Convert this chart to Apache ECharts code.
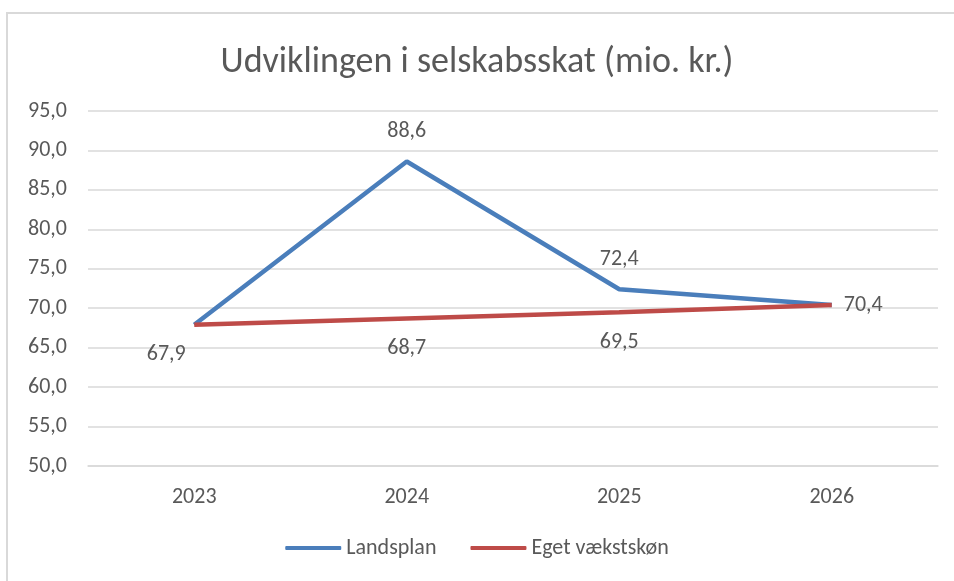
<!DOCTYPE html>
<html>
<head>
<meta charset="utf-8">
<script src="https://cdn.jsdelivr.net/npm/echarts@6/dist/echarts.min.js"></script>
<style>
  html, body { margin: 0; padding: 0; background: #fff; }
  #frame { position: absolute; left: 6px; top: 12px; width: 960px; height: 580px; border: 2px solid #d9d9d9; box-sizing: border-box; }
  #chart { position: absolute; left: 0; top: 0; width: 954px; height: 581px; }
</style>
</head>
<body>
<div id="frame"></div>
<div id="chart"></div>
<script>
// data
const years = ['2023', '2024', '2025', '2026'];
const landsplan = [67.9, 88.6, 72.4, 70.4];
const egetVaekst = [67.9, 68.7, 69.5, 70.4];
// label placement per point (null = no label)
const landsplanPos = [null, 'top', 'top', 'right'];
const egetPos = ['bottom', 'bottom', 'bottom', null];

const fmt = v => v.toFixed(1).replace('.', ',');
const txt = '#595959';
const font = "Carlito, Lato, sans-serif";

const buildData = (vals, pos) => vals.map((v, i) => {
    if (!pos[i]) return { value: v, label: { show: false } };
    const lbl = { show: true, position: pos[i], distance: pos[i] === 'right' ? 12 : 19 };
    if (i === 0) lbl.offset = [-28, 0]; // Excel shifted the first label left
    return { value: v, label: lbl };
});

const chart = echarts.init(document.getElementById('chart'));
chart.setOption({
    backgroundColor: 'transparent',
    title: {
        text: 'Udviklingen i selskabsskat (mio. kr.)',
        left: 'center',
        top: 40,
        textStyle: { fontFamily: font, fontSize: 36, fontWeight: 'normal', color: txt },
    },
    legend: {
        bottom: 17,
        left: 'center',
        itemWidth: 56,
        itemHeight: 4,
        itemGap: 34,
        icon: 'roundRect',
        textStyle: { fontFamily: font, fontSize: 22, color: txt },
        data: ['Landsplan', 'Eget vækstskøn'],
    },
    grid: { left: 88, right: 16, top: 111, bottom: 115 },
    xAxis: {
        type: 'category',
        data: years,
        boundaryGap: true,
        axisLine: { lineStyle: { color: '#d9d9d9', width: 1.5 } },
        axisTick: { show: false },
        axisLabel: { fontFamily: font, fontSize: 22, color: txt, margin: 20 },
    },
    yAxis: {
        type: 'value',
        min: 50,
        max: 95,
        interval: 5,
        axisLine: { show: false },
        axisTick: { show: false },
        splitLine: { lineStyle: { color: '#d9d9d9', width: 1.5 } },
        axisLabel: { fontFamily: font, fontSize: 22, color: txt, margin: 21, formatter: fmt },
    },
    series: [
        {
            name: 'Landsplan',
            type: 'line',
            data: buildData(landsplan, landsplanPos),
            symbol: 'circle',
            symbolSize: 0,
            showSymbol: true,
            lineStyle: { color: '#4a7ebb', width: 4.5 },
            itemStyle: { color: '#4a7ebb' },
            label: { fontFamily: font, fontSize: 22, color: txt, formatter: p => fmt(p.value) },
            z: 3,
        },
        {
            name: 'Eget vækstskøn',
            type: 'line',
            data: buildData(egetVaekst, egetPos),
            symbol: 'circle',
            symbolSize: 0,
            showSymbol: true,
            lineStyle: { color: '#be4b48', width: 4.5 },
            itemStyle: { color: '#be4b48' },
            label: { fontFamily: font, fontSize: 22, color: txt, formatter: p => fmt(p.value) },
            z: 4,
        },
    ],
});
</script>
</body>
</html>
